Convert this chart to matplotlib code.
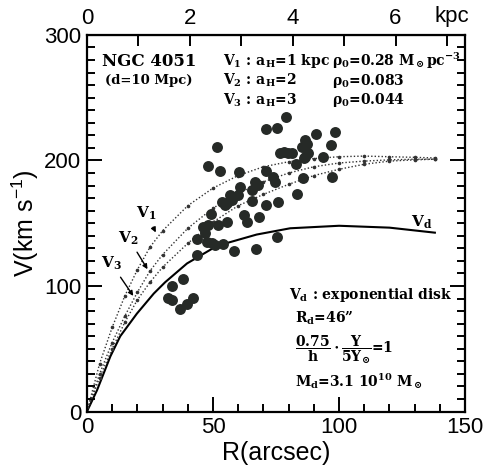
import numpy as np
import matplotlib
matplotlib.use("Agg")
import matplotlib.pyplot as plt

plt.rcParams['font.family'] = ['Liberation Sans', 'DejaVu Sans']
plt.rcParams['mathtext.fontset'] = 'custom'
plt.rcParams['mathtext.rm'] = 'DejaVu Serif:bold'
plt.rcParams['mathtext.bf'] = 'DejaVu Serif:bold'
plt.rcParams['mathtext.it'] = 'DejaVu Serif:italic'
plt.rcParams['mathtext.sf'] = 'Liberation Sans'
plt.rcParams['mathtext.default'] = 'rm'

# observed rotation points (R arcsec, V km/s)
obs_r = [79, 71, 75.3, 51.5, 48.1, 52.7, 60.4, 91, 98.4, 96.9, 86.5, 87.2, 85.2, 87.8,
         86.5, 85.9, 76.6, 78.0, 79.9, 81.5, 93.8, 83.1, 85.6, 97.1, 83.2, 70.9, 73.9,
         74.6, 66.7, 68, 65.4, 60.7, 60.0, 56.7, 57.4, 55.4, 53.4, 54.8, 65.4, 70.9,
         75.9, 49.1, 62.3, 63.4, 68.4, 48.1, 46.8, 45.9, 52.1, 55.4, 43.5, 47.5, 49.5,
         50.8, 53.8, 58.5, 67.1, 75.3, 43.5, 33.9, 38.2, 32.3, 33.6, 36.9, 39.6, 41.9]
obs_v = [235, 225, 225.6, 210.5, 196, 192, 191, 221, 222.3, 212.7, 216.3, 213.5, 211, 205.7,
         203, 201.7, 205.7, 207, 206.2, 206, 202.5, 197.5, 186.3, 186.5, 173.3, 191.9, 187.1,
         183.1, 183.1, 180.5, 176.5, 179.1, 172.5, 172.5, 168.6, 165.9, 167.2, 164.6, 167.5, 164.6,
         167.2, 157.4, 156.6, 151.3, 155.3, 148.6, 142, 147.3, 148.6, 151.3, 137.3, 135.4, 134.1,
         132.7, 133.5, 128.2, 129.5, 139.3, 124.8, 100.1, 105.7, 90.8, 88.9, 81.8, 85.8, 90.3]

# model curves
mod_r = [0, 5, 10, 15, 20, 25, 30, 40, 50, 60, 70, 80, 90, 100, 110, 120, 130, 138]
v1 = [0, 38, 67, 92, 113, 131, 144, 164, 178, 188, 195, 199, 201.5, 203, 203.5, 203, 202.5, 202]
v2 = [0, 30, 55, 76, 95, 112, 125, 146, 162, 174, 183, 190, 195, 198, 199.5, 200.5, 201, 201]
v3 = [0, 27, 50, 71, 89, 103, 115, 134, 151, 164, 173, 181, 188, 193, 197, 199.5, 200.5, 201]
vd_r = [0, 4, 9.3, 13.2, 19.8, 26.5, 31, 39.7, 51.6, 67.3, 80.6, 100, 120, 138]
vd = [0, 17, 44, 60, 78, 94, 103, 118, 132, 141, 146, 148, 146.5, 142.5]

x_ticks = [0, 50, 100, 150]
y_ticks = [0, 100, 200, 300]
kpc_ticks = [0, 1, 2, 3, 4, 5, 6, 7]
kpc_labels = ['0', '', '2', '', '4', '', '6', '']
ARCSEC_PER_KPC = 20.4

fig = plt.figure(figsize=(4.83, 4.72), dpi=100)
ax = fig.add_axes([0.180, 0.128, 0.783, 0.798])

ax.scatter(obs_r, obs_v, s=62, color='#262a27', zorder=3, linewidths=0)
ax.plot(vd_r, vd, color='black', lw=1.5, zorder=2)
for v in (v1, v2, v3):
    ax.plot(mod_r, v, color='#333333', lw=1.0, ls=(0, (1, 1.5)), zorder=2,
            marker='o', ms=1.6, mfc='#333333', mec='#333333')

ax.set_xlim(0, 150)
ax.set_ylim(0, 300)
ax.set_xticks(x_ticks)
ax.set_yticks(y_ticks)
ax.set_xticks(np.arange(0, 151, 10), minor=True)
ax.set_yticks(np.arange(0, 301, 10), minor=True)
ax.tick_params(which='both', direction='in', top=False, right=True, width=1.4)
ax.tick_params(which='major', length=11, labelsize=16, pad=4)
ax.tick_params(which='minor', length=6)
for sp in ax.spines.values():
    sp.set_linewidth(1.6)

ax.set_xlabel('R(arcsec)', fontsize=18, labelpad=2)
ax.set_ylabel(r'V(km s$\mathsf{^{-1}}$)', fontsize=18, labelpad=2)

sec = ax.secondary_xaxis('top', functions=(lambda x: x / ARCSEC_PER_KPC,
                                           lambda k: k * ARCSEC_PER_KPC))
sec.set_xticks(kpc_ticks)
sec.set_xticklabels(kpc_labels)
sec.tick_params(direction='in', length=8, width=1.4, labelsize=16, pad=4)
ax.text(0.965, 1.022, 'kpc', transform=ax.transAxes, ha='center', va='bottom', fontsize=16)

# labels for curves
serif = dict(family='DejaVu Serif', fontweight='bold', color='black')
arrow = dict(arrowstyle='-|>', lw=1.0, color='black', mutation_scale=7)
ax.annotate(r'V$_1$', xy=(27.8, 140.7), xytext=(23.5, 158), ha='center',
            va='center', fontsize=11, arrowprops=arrow, **serif)
ax.annotate(r'V$_2$', xy=(24.6, 111.5), xytext=(16.5, 138), ha='center',
            va='center', fontsize=11, arrowprops=arrow, **serif)
ax.annotate(r'V$_3$', xy=(19, 90.3), xytext=(9.6, 118), ha='center',
            va='center', fontsize=11, arrowprops=arrow, **serif)
ax.text(132.8, 151, r'V$_\mathrm{d}$', ha='center', va='center', fontsize=11, **serif)

ax.text(6, 279, 'NGC 4051', fontsize=12, ha='left', va='center', **serif)
ax.text(7, 263.5, '(d=10 Mpc)', fontsize=9.5, ha='left', va='center', **serif)

rows_y = [279, 263.5, 248]
left_txt = [r'V$_1$ : a$_\mathrm{H}$=1 kpc', r'V$_2$ : a$_\mathrm{H}$=2',
            r'V$_3$ : a$_\mathrm{H}$=3']
right_txt = [r'$\rho_0$=0.28 M$_\odot$pc$^{-3}$', r'$\rho_0$=0.083', r'$\rho_0$=0.044']
for yy, lt, rt in zip(rows_y, left_txt, right_txt):
    ax.text(54, yy, lt, fontsize=10, ha='left', va='center', **serif)
    ax.text(97, yy, rt, fontsize=10, ha='left', va='center', **serif)

ax.text(80, 92.5, r'V$_\mathrm{d}$ : exponential disk', fontsize=10, ha='left',
        va='center', **serif)
ax.text(82.5, 74.5, r'R$_\mathrm{d}$=46' + '\u201d', fontsize=10, ha='left', va='center',
        **serif)
ax.text(82.5, 49, r'$\mathrm{\dfrac{0.75}{h}\cdot\dfrac{\Upsilon}{5\Upsilon_{\odot}}}$=1',
        fontsize=10, ha='left', va='center', **serif)
ax.text(82.5, 24.5, r'M$_\mathrm{d}$=3.1 10$^{10}$ M$_\odot$', fontsize=10, ha='left',
        va='center', **serif)

fig.savefig('out.png', dpi=100)
